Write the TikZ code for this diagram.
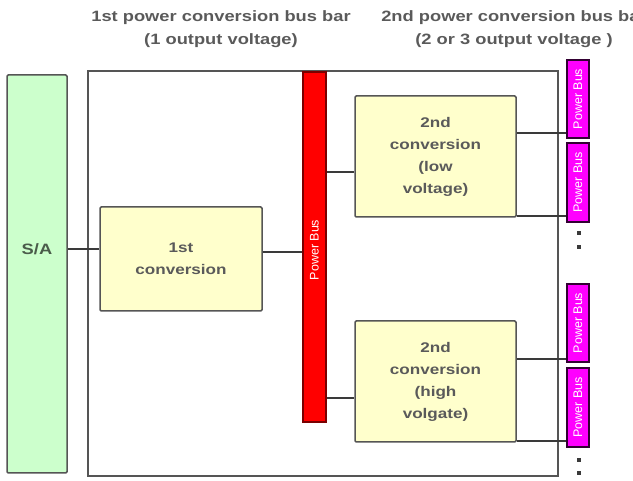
\documentclass[tikz,border=0pt]{standalone}
\usepackage{fontspec}
\setmainfont[FakeStretch=1.22]{Liberation Sans}
\newfontfamily\busfont{Liberation Sans}
\definecolor{txt}{HTML}{5A5A5A}
\definecolor{satxt}{HTML}{4A5C4A}
\definecolor{edge}{HTML}{555555}
\definecolor{wire}{HTML}{3A3A3A}
\definecolor{sagreen}{HTML}{CCFFCC}
\definecolor{convyellow}{HTML}{FFFFCC}
\definecolor{busred}{HTML}{FF0000}
\definecolor{busredline}{HTML}{7A0000}
\definecolor{busmag}{HTML}{FF00FF}
\definecolor{busmagline}{HTML}{330033}
\begin{document}
\begin{tikzpicture}[x=1pt,y=-1pt,
  blk/.style={draw=edge, line width=1.5pt, rounded corners=1.2pt, inner sep=0pt},
  convbox/.style={blk, fill=convyellow, text=txt, align=center,
     font=\bfseries\fontsize{14}{22}\selectfont},
  redbus/.style={draw=busredline, line width=1.2pt, fill=busred, inner sep=0pt},
  magbus/.style={draw=busmagline, line width=1.2pt, fill=busmag, inner sep=0pt,
     minimum width=22pt},
  buslabel/.style={rotate=90, text=white, font=\busfont\fontsize{12.5}{12.5}\selectfont, inner sep=0pt},
  conn/.style={draw=wire, line width=1.2pt},
  dotmark/.style={fill=wire, minimum size=4pt, inner sep=0pt},
  title/.style={text=txt, align=center, font=\bfseries\fontsize{15}{23}\selectfont}
]
\useasboundingbox (0,0) rectangle (633,481);
% titles
\node[title] (t1) at (221,29) {1st power conversion bus bar\\(1 output voltage)};
\node[title] (t2) at (514,29) {2nd power conversion bus bar\\(2 or 3 output voltage )};
% S/A
\node[blk, fill=sagreen, minimum width=60pt, minimum height=398pt] (SA) at (37,274) {};
\node[text=satxt, font=\bfseries\fontsize{15}{15}\selectfont] (SAlabel) at (37,249) {S/A};
% frame
\node[draw=edge, line width=1.5pt, minimum width=470pt, minimum height=405pt, inner sep=0pt] (frame) at (323,273.5) {};
% conversions
\node[convbox, minimum width=162pt, minimum height=104pt] (conv1) at (181,259) {1st\\conversion};
\node[convbox, minimum width=161pt, minimum height=121pt] (conv2a) at (435.5,156.5) {2nd\\conversion\\(low\\voltage)};
\node[convbox, minimum width=161pt, minimum height=121pt] (conv2b) at (435.5,381.5) {2nd\\conversion\\(high\\volgate)};
% red bus
\node[redbus, minimum width=23pt, minimum height=350pt] (bus) at (314.5,247) {};
\node[buslabel] (buslbl) at (314.5,250) {Power Bus};
% magenta buses
\node[magbus, minimum height=78pt] (pb1) at (578,99) {};
\node[buslabel] (pb1l) at (pb1) {Power Bus};
\node[magbus, minimum height=79pt] (pb2) at (578,182.5) {};
\node[buslabel] (pb2l) at (pb2) {Power Bus};
\node[magbus, minimum height=78pt] (pb3) at (578,323) {};
\node[buslabel] (pb3l) at (pb3) {Power Bus};
\node[magbus, minimum height=79pt] (pb4) at (578,407.5) {};
\node[buslabel] (pb4l) at (pb4) {Power Bus};
% dots
\node[dotmark] (d1) at (579,233) {};
\node[dotmark] (d2) at (579,247) {};
\node[dotmark] (d3) at (579,460) {};
\node[dotmark] (d4) at (579,473) {};
% connectors
\draw[conn] (SA.east |- SAlabel) -- (conv1.west |- SAlabel);
\draw[conn] (conv1.east |- 0,252) -- (bus.west |- 0,252);
\draw[conn] (bus.east |- 0,172) -- (conv2a.west |- 0,172);
\draw[conn] (bus.east |- 0,398) -- (conv2b.west |- 0,398);
\draw[conn] (conv2a.east |- 0,133) -- (pb1.west |- 0,133);
\draw[conn] (conv2a.east |- 0,216) -- (pb2.west |- 0,216);
\draw[conn] (conv2b.east |- 0,359) -- (pb3.west |- 0,359);
\draw[conn] (conv2b.east |- 0,441) -- (pb4.west |- 0,441);
\end{tikzpicture}
\end{document}
